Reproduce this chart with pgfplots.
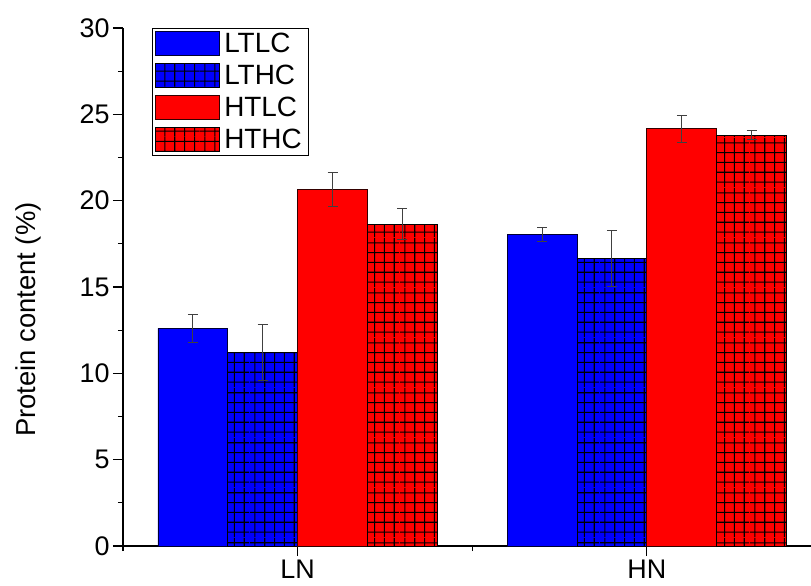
\documentclass[border=0pt]{standalone}
\usepackage{pgfplots}
\pgfplotsset{compat=1.18}
\usepackage{fontspec}
\setmainfont{Liberation Sans}
\usetikzlibrary{patterns}
\pgfdeclarepatternformonly{biggrid}{\pgfpoint{0bp}{0bp}}{\pgfpoint{50bp}{50bp}}{\pgfpoint{50bp}{50bp}}{%
  \pgfsetlinewidth{1.1bp}%
  \foreach \k in {5,15,25,35,45}{%
    \pgfpathmoveto{\pgfpoint{0bp}{\k bp}}\pgfpathlineto{\pgfpoint{50bp}{\k bp}}%
    \pgfpathmoveto{\pgfpoint{\k bp}{0bp}}\pgfpathlineto{\pgfpoint{\k bp}{50bp}}%
  }%
  \pgfusepath{stroke}}
\begin{document}
\begin{tikzpicture}
\path[use as bounding box] (-123bp,-40bp) rectangle (688bp,546bp);
\begin{axis}[
  at={(0,0)}, anchor=south west,
  scale only axis,
  width=688bp, height=518bp,
  xmin=-0.5, xmax=1.47,
  ymin=0, ymax=30,
  axis x line*=bottom, axis y line*=left,
  axis line style={line width=1.5bp, -},
  ybar=0pt, bar width=0.2,
  xtick={0,1}, xticklabels={LN,HN},
  minor xtick={-0.5,0.5},
  ytick={0,5,...,30}, minor ytick={2.5,7.5,...,27.5},
  tick align=outside,
  major tick length=10bp, minor tick length=5bp,
  tick style={line width=1.2bp, black},
  /pgf/number format/assume math mode=true,
  ticklabel style={font=\fontsize{27}{30}\selectfont},
  ylabel={Protein content (\%)},
  every axis y label/.style={at={(axis description cs:-0.138,0.437)}, rotate=90, anchor=center,
    font=\fontsize{27.5}{31}\selectfont},
  legend style={at={(0.042,1)}, anchor=north west, draw=black, line width=0.8bp,
    font=\fontsize{28}{30}\selectfont, row sep=7bp, inner xsep=3bp, inner ysep=3bp,
    nodes={inner xsep=4bp},
    /tikz/every even column/.append style={column sep=4bp}},
  legend cell align=left,
  legend image code/.code={\draw[#1, line width=1bp] (0bp,-12bp) rectangle (64bp,12bp);},
  error bars/y dir=both, error bars/y explicit,
  error bars/error bar style={color=black!75, line width=1bp},
  error bars/error mark options={rotate=90, mark size=5bp, line width=1bp, color=black!75},
]
\addplot[fill=blue, draw=black!80!blue, line width=0.8bp]
  coordinates {(0,12.6) +- (0,0.82) (1,18.05) +- (0,0.42)};
\addplot[fill=blue, draw=black, line width=0.8bp, postaction={pattern=biggrid, pattern color=black}]
  coordinates {(0,11.22) +- (0,1.62) (1,16.66) +- (0,1.64)};
\addplot[fill=red, draw=black!80!red, line width=0.8bp]
  coordinates {(0,20.66) +- (0,0.99) (1,24.16) +- (0,0.77)};
\addplot[fill=red, draw=black, line width=0.8bp, postaction={pattern=biggrid, pattern color=black}]
  coordinates {(0,18.63) +- (0,0.89) (1,23.8) +- (0,0.26)};
\legend{LTLC,LTHC,HTLC,HTHC}
\end{axis}
\end{tikzpicture}
\end{document}
